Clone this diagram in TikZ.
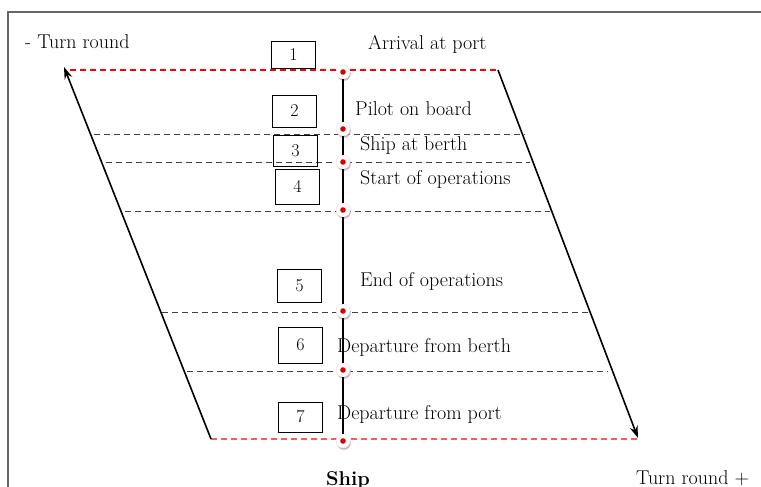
\documentclass[tikz,border=0pt]{standalone}
\usepackage{fontspec}
\usetikzlibrary{arrows.meta,positioning,shadows}

\begin{document}
\begin{tikzpicture}[x=1pt,y=-1pt,
  numbox/.style={draw,line width=0.8pt,minimum width=44pt,minimum height=31pt,inner sep=0pt,font=\fontsize{18}{18}\selectfont},
  evlabel/.style={anchor=base west,inner sep=0pt,font=\fontsize{20}{20}\selectfont},
  stopdot/.style={circle,fill=white,draw=gray!25,minimum size=14pt,inner sep=0pt,
    drop shadow={shadow xshift=0.8pt,shadow yshift=-1.8pt,fill=red!20!gray!60,opacity=0.8},
    path picture={\fill[red!85!black] (path picture bounding box.center) circle (2.8pt);}},
  reddash/.style={draw=red,line width=1.1pt,dash pattern=on 6pt off 4pt},
  greydash/.style={draw=black!75,line width=1pt,dash pattern=on 6pt off 4pt},
  turnarrow/.style={line width=1.6pt,-{Stealth[length=12pt,width=8pt]}}]
  \useasboundingbox (0,0) rectangle (761,487);
  % frame of the page, cut off at the right and below
  \draw[gray!80!black,line width=1.4pt] (8,487) -- (8,12) -- (761,12);

  % ends of the level lines
  \coordinate (top L) at (70,70);   \coordinate (top R) at (498,70);
  \coordinate (bot L) at (211,439); \coordinate (bot R) at (640,439);
  \coordinate (l2 L) at (94,134);   \coordinate (l2 R) at (525,134);
  \coordinate (l3 L) at (106,162);  \coordinate (l3 R) at (530,162);
  \coordinate (l4 L) at (125,211);  \coordinate (l4 R) at (550,211);
  \coordinate (l5 L) at (162,312);  \coordinate (l5 R) at (590,312);
  \coordinate (l6 L) at (187,371);  \coordinate (l6 R) at (608,371);
  \coordinate (arrL) at (64,67);    \coordinate (arrR) at (638,438);

  \draw[reddash] (top L) -- (top R);
  \draw[reddash,draw=red!65] (bot L) -- (bot R);
  \foreach \k in {2,...,6}
    \draw[greydash] (l\k\space L) -- (l\k\space R);

  \draw[turnarrow] (bot L) -- (arrL);
  \draw[turnarrow] (top R) -- (arrR);

  % ship line with its stops
  \node[stopdot] (d1) at (343,72) {};
  \node[stopdot] (d2) at (343,129) {};
  \node[stopdot] (d3) at (343,162) {};
  \node[stopdot] (d4) at (343,210) {};
  \node[stopdot] (d5) at (343,311) {};
  \node[stopdot] (d6) at (343,370) {};
  \node[stopdot] (d7) at (343,441) {};
  \foreach \a/\b in {d1/d2,d2/d3,d3/d4,d4/d5,d5/d6,d6/d7}
    \draw[line width=2.8pt] (\a) -- (\b);

  % numbered boxes
  \node[numbox,minimum height=27pt] (b1) at (293.5,54.5) {1};
  \node[numbox,minimum height=32pt] (b2) at (294.5,111) {2};
  \node[numbox] (b3) at (295.5,150.5) {3};
  \node[numbox,minimum height=35pt] (b4) at (297.5,186.5) {4};
  \node[numbox,minimum height=33pt] (b5) at (299.5,285.5) {5};
  \node[numbox,minimum height=36pt] (b6) at (300.5,345) {6};
  \node[numbox,minimum height=30pt] (b7) at (300.5,417) {7};

  % texts
  \node[evlabel] (turnminus) at (25,49) {- Turn round};
  \node[evlabel] (ev1) at (368,50) {Arrival at port};
  \node[evlabel] (ev2) at (355,116) {Pilot on board};
  \node[evlabel] (ev3) at (360,150) {Ship at berth};
  \node[evlabel] (ev4) at (360,184) {Start of operations};
  \node[evlabel] (ev5) at (360,286) {End of operations};
  \node[evlabel] (ev6) at (337,352) {Departure from berth};
  \node[evlabel] (ev7) at (337,419) {Departure from port};
  \node[evlabel,font=\fontsize{20}{20}\selectfont\bfseries] (ship) at (326,485) {Ship};
  \node[evlabel] (turnplus) at (636,484) {Turn round +};
\end{tikzpicture}
\end{document}
